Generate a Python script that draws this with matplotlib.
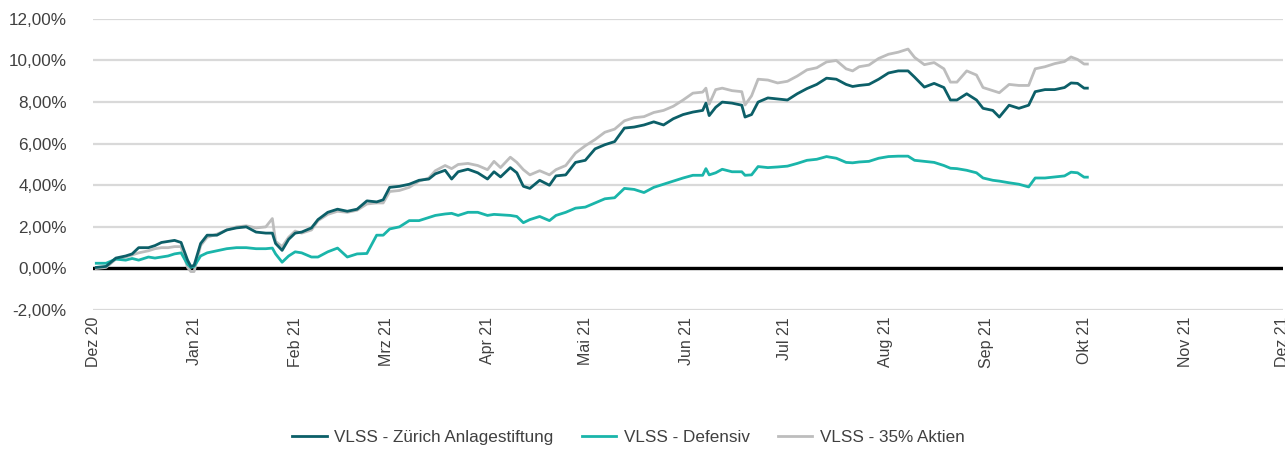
import matplotlib
matplotlib.use("Agg")
import matplotlib.pyplot as plt
import matplotlib.ticker as mticker
import pandas as pd

plt.rcParams["font.family"] = ["Liberation Sans", "DejaVu Sans"]

# sample dates (days)
dates = [
    "2020-12-02", "2020-12-05", "2020-12-08", "2020-12-11", "2020-12-13", "2020-12-15",
    "2020-12-18", "2020-12-20", "2020-12-22", "2020-12-24", "2020-12-26", "2020-12-28",
    "2020-12-30", "2020-12-31", "2021-01-01", "2021-01-03", "2021-01-05", "2021-01-08",
    "2021-01-11", "2021-01-14", "2021-01-17", "2021-01-20", "2021-01-23", "2021-01-25",
    "2021-01-26", "2021-01-28", "2021-01-30", "2021-02-01", "2021-02-03", "2021-02-06",
    "2021-02-08", "2021-02-11", "2021-02-14", "2021-02-17", "2021-02-20", "2021-02-23",
    "2021-02-26", "2021-02-28", "2021-03-02", "2021-03-05", "2021-03-08", "2021-03-11",
    "2021-03-14", "2021-03-16", "2021-03-19", "2021-03-21", "2021-03-23", "2021-03-26",
    "2021-03-29", "2021-04-01", "2021-04-03", "2021-04-05", "2021-04-08", "2021-04-10",
    "2021-04-12", "2021-04-14", "2021-04-17", "2021-04-20", "2021-04-22", "2021-04-25",
    "2021-04-28", "2021-05-01", "2021-05-04", "2021-05-07", "2021-05-10", "2021-05-13",
    "2021-05-16", "2021-05-19", "2021-05-22", "2021-05-25", "2021-05-28", "2021-05-31",
    "2021-06-03", "2021-06-06", "2021-06-07", "2021-06-08", "2021-06-10", "2021-06-12",
    "2021-06-15", "2021-06-18", "2021-06-19", "2021-06-21", "2021-06-23", "2021-06-26",
    "2021-06-29", "2021-07-02", "2021-07-05", "2021-07-08", "2021-07-11", "2021-07-14",
    "2021-07-17", "2021-07-20", "2021-07-22", "2021-07-24", "2021-07-27", "2021-07-30",
    "2021-08-02", "2021-08-05", "2021-08-08", "2021-08-10", "2021-08-13", "2021-08-16",
    "2021-08-19", "2021-08-21", "2021-08-23", "2021-08-26", "2021-08-29", "2021-08-31",
    "2021-09-03", "2021-09-05", "2021-09-08", "2021-09-11", "2021-09-14", "2021-09-16",
    "2021-09-19", "2021-09-22", "2021-09-25", "2021-09-27", "2021-09-29", "2021-10-01",
    "2021-10-02",
]

zuerich = [
    0.05, 0.1, 0.5, 0.6, 0.7, 1.0,
    1.0, 1.1, 1.25, 1.3, 1.35, 1.25,
    0.4, 0.1, 0.15, 1.2, 1.6, 1.6,
    1.85, 1.95, 2.0, 1.75, 1.7, 1.7,
    1.2, 0.87, 1.4, 1.7, 1.75, 1.95,
    2.35, 2.7, 2.85, 2.75, 2.85, 3.25,
    3.2, 3.3, 3.9, 3.95, 4.05, 4.24,
    4.3, 4.55, 4.72, 4.3, 4.65, 4.77,
    4.6, 4.3, 4.65, 4.4, 4.85, 4.6,
    3.95, 3.85, 4.24, 4.0, 4.45, 4.5,
    5.1, 5.2, 5.75, 5.95, 6.1, 6.75,
    6.8, 6.9, 7.05, 6.9, 7.2, 7.4,
    7.52, 7.6, 7.95, 7.35, 7.75, 8.0,
    7.95, 7.85, 7.28, 7.4, 8.0, 8.2,
    8.15, 8.1, 8.4, 8.65, 8.85, 9.15,
    9.1, 8.85, 8.75, 8.8, 8.85, 9.1,
    9.4, 9.5, 9.5, 9.2, 8.72, 8.9,
    8.7, 8.1, 8.1, 8.4, 8.1, 7.7,
    7.6, 7.28, 7.85, 7.7, 7.85, 8.5,
    8.6, 8.6, 8.7, 8.92, 8.9, 8.67,
    8.67,
]

defensiv = [
    0.25, 0.25, 0.45, 0.4, 0.48, 0.4,
    0.55, 0.5, 0.55, 0.6, 0.7, 0.75,
    0.2, 0.05, 0.1, 0.6, 0.75, 0.85,
    0.95, 1.0, 1.0, 0.95, 0.95, 0.98,
    0.7, 0.3, 0.6, 0.8, 0.75, 0.55,
    0.55, 0.8, 0.98, 0.55, 0.7, 0.72,
    1.6, 1.6, 1.9, 2.0, 2.3, 2.3,
    2.45, 2.55, 2.62, 2.65, 2.55, 2.7,
    2.7, 2.55, 2.6, 2.58, 2.55, 2.5,
    2.2, 2.35, 2.5, 2.3, 2.55, 2.7,
    2.9, 2.95, 3.15, 3.35, 3.4, 3.85,
    3.8, 3.65, 3.9, 4.05, 4.2, 4.35,
    4.48, 4.48, 4.8, 4.5, 4.6, 4.77,
    4.65, 4.65, 4.48, 4.5, 4.9, 4.85,
    4.88, 4.92, 5.05, 5.2, 5.25, 5.38,
    5.3, 5.1, 5.08, 5.12, 5.15, 5.3,
    5.38, 5.4, 5.4, 5.2, 5.15, 5.1,
    4.95, 4.82, 4.8, 4.72, 4.6, 4.35,
    4.24, 4.2, 4.12, 4.05, 3.92, 4.35,
    4.35, 4.4, 4.45, 4.63, 4.6, 4.39,
    4.39,
]

aktien35 = [
    0.0, 0.05, 0.45, 0.55, 0.65, 0.75,
    0.85, 0.95, 1.0, 1.0, 1.05, 1.05,
    0.05, -0.15, -0.15, 1.1, 1.5, 1.65,
    1.85, 2.0, 2.05, 1.95, 2.0, 2.4,
    1.3, 1.05, 1.5, 1.8, 1.7, 1.85,
    2.3, 2.6, 2.75, 2.7, 2.8, 3.1,
    3.15, 3.15, 3.7, 3.75, 3.9, 4.2,
    4.35, 4.7, 4.95, 4.8, 5.0, 5.05,
    4.95, 4.75, 5.15, 4.85, 5.35, 5.1,
    4.75, 4.5, 4.7, 4.5, 4.75, 4.95,
    5.55, 5.9, 6.2, 6.55, 6.7, 7.1,
    7.25, 7.3, 7.5, 7.6, 7.8, 8.1,
    8.43, 8.48, 8.67, 7.9, 8.6, 8.67,
    8.55, 8.5, 7.86, 8.3, 9.1, 9.06,
    8.92, 9.0, 9.25, 9.55, 9.65, 9.93,
    10.0, 9.6, 9.5, 9.7, 9.78, 10.1,
    10.3, 10.4, 10.55, 10.15, 9.8, 9.9,
    9.6, 8.96, 8.96, 9.5, 9.3, 8.7,
    8.55, 8.45, 8.85, 8.8, 8.8, 9.6,
    9.7, 9.85, 9.95, 10.17, 10.05, 9.83,
    9.83,
]

month_labels = ["Dez 20", "Jan 21", "Feb 21", "Mrz 21", "Apr 21", "Mai 21", "Jun 21",
                "Jul 21", "Aug 21", "Sep 21", "Okt 21", "Nov 21", "Dez 21"]

x = pd.to_datetime(dates)
months = pd.date_range("2020-12-01", "2021-12-01", freq="MS")

fig = plt.figure(figsize=(12.85, 4.5), dpi=100)
ax = fig.add_axes([0.0724, 0.311, 0.926, 0.647])

ax.axhline(0, color="black", lw=2.4, zorder=2)
ax.plot(x, aktien35, color="#BDBDBD", lw=2.0, zorder=3, label="VLSS - 35% Aktien")
ax.plot(x, defensiv, color="#1AB5AA", lw=2.0, zorder=4, label="VLSS - Defensiv")
ax.plot(x, zuerich, color="#0C5F68", lw=2.0, zorder=5, label="VLSS - Zürich Anlagestiftung")

ax.set_ylim(-2, 12)
ax.set_yticks(range(-2, 13, 2))
ax.yaxis.set_major_formatter(
    mticker.FuncFormatter(lambda v, p: f"{v:.2f}%".replace(".", ","))
)
ax.set_xlim(months[0], months[-1])
ax.set_xticks(months)
ax.set_xticklabels(month_labels, rotation=90, va="top", ha="center")

ax.grid(axis="y", color="#D9D9D9", lw=1.6, zorder=0)
for s in ax.spines.values():
    s.set_visible(False)
ax.tick_params(axis="both", length=0, labelcolor="#404040")
ax.tick_params(axis="y", pad=19, labelsize=12.3)
ax.tick_params(axis="x", pad=5, labelsize=11.5)

handles, labels = ax.get_legend_handles_labels()
order = [2, 1, 0]
fig.legend([handles[i] for i in order], [labels[i] for i in order],
           loc="center", bbox_to_anchor=(0.489, 0.027), ncol=3, frameon=False,
           fontsize=12.3, handlelength=2.0, handletextpad=0.45,
           columnspacing=1.65, labelcolor="#404040")

fig.savefig("out.png", dpi=100)
